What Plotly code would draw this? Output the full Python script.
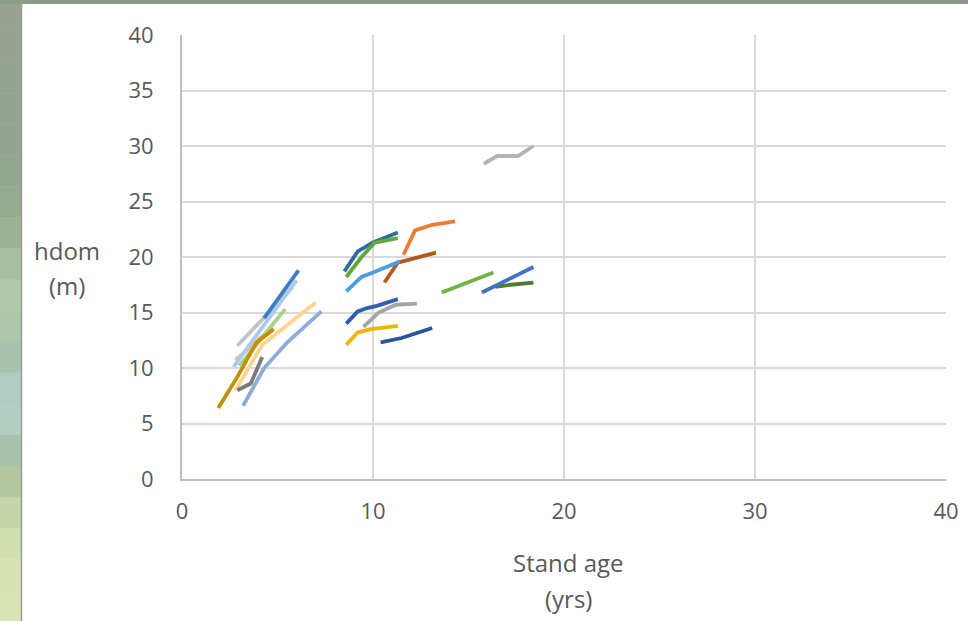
import plotly.graph_objects as go

# Dominant height (m) against stand age (yrs) for repeated plot measurements
series_ages = [
    [15.8, 16.5, 17.6, 18.4],
    [11.6, 12.2, 13.1, 14.3],
    [10.6, 11.3, 12.2, 13.3],
    [8.5, 9.2, 10.0, 11.3],
    [8.6, 9.4, 10.1, 11.3],
    [8.6, 9.4, 10.0, 11.4],
    [8.6, 9.2, 9.7, 10.2, 11.3],
    [9.5, 10.3, 11.2, 12.3],
    [8.6, 9.2, 9.9, 11.3],
    [10.4, 11.5, 13.1],
    [13.6, 14.7, 16.3],
    [16.4, 17.2, 18.4],
    [15.7, 16.8, 18.4],
    [2.9, 5.8],
    [2.8, 4.3],
    [2.7, 6.0],
    [4.3, 6.1],
    [3.0, 5.4],
    [2.8, 4.2, 7.0],
    [2.9, 3.6, 4.2],
    [3.2, 4.3, 5.5, 7.3],
    [1.9, 2.9, 3.9, 4.8],
]
series_heights = [
    [28.4, 29.1, 29.1, 30.0],
    [20.2, 22.4, 22.9, 23.2],
    [17.7, 19.5, 19.9, 20.4],
    [18.7, 20.5, 21.3, 22.2],
    [18.2, 20.0, 21.3, 21.7],
    [16.9, 18.2, 18.6, 19.6],
    [14.0, 15.1, 15.4, 15.6, 16.2],
    [13.7, 15.0, 15.7, 15.8],
    [12.1, 13.2, 13.5, 13.8],
    [12.3, 12.7, 13.6],
    [16.8, 17.5, 18.6],
    [17.3, 17.5, 17.7],
    [16.8, 17.7, 19.1],
    [12.0, 17.3],
    [10.7, 13.0],
    [10.1, 17.9],
    [14.5, 18.8],
    [10.2, 15.3],
    [8.0, 12.1, 15.9],
    [8.0, 8.6, 11.0],
    [6.6, 10.0, 12.3, 15.1],
    [6.4, 9.2, 12.3, 13.5],
]
series_colors = [
    "#b4b4b4", "#ed7d31", "#b05a1c", "#2e6da4", "#5fa83a", "#4d9ee0",
    "#2f5fb3", "#a5a5a5", "#f0b400", "#2a52a0", "#70b443", "#4e7d2f",
    "#4472c4", "#c3c3c3", "#f4b58a", "#a9cbef", "#3f7fc0", "#a9d18e",
    "#ffd48c", "#7a7a7a", "#8faadc", "#c09000",
]

x_ticks = [0, 10, 20, 30, 40]
y_ticks = [0, 5, 10, 15, 20, 25, 30, 35, 40]

# Soft photographic backdrop strip on the left edge, top to bottom
backdrop_bands = [
    "#97a294", "#97a294", "#96a393", "#96a393", "#95a492", "#94a691",
    "#96aa91", "#9db393", "#a8c09f", "#b1c9a9", "#aec6a9", "#a9c2ae",
    "#b1cdc3", "#b2cfc4", "#a9c2ae", "#b3c69f", "#c5d5a9", "#d1deb0",
    "#d8e3b3", "#d9e4b4",
]

W, H = 968, 621
L, R, T, B = 182, 22, 35, 142
PW, PH = W - L - R, H - T - B


def px_x(p):
    """Pixel column -> paper x."""
    return (p - L) / PW


def px_y(p):
    """Pixel row -> paper y."""
    return (H - B - p) / PH


fig = go.Figure()

for ages, heights, color in zip(series_ages, series_heights, series_colors):
    fig.add_trace(go.Scatter(
        x=ages, y=heights, mode="lines",
        line=dict(color=color, width=3.8),
        showlegend=False, hoverinfo="x+y",
    ))

shapes = []
n = len(backdrop_bands)
for i, c in enumerate(backdrop_bands):
    shapes.append(dict(
        type="rect", xref="paper", yref="paper", layer="below",
        x0=px_x(0), x1=px_x(22),
        y0=px_y(H * (i + 1) / n + 0.5), y1=px_y(H * i / n),
        fillcolor=c, line=dict(width=0),
    ))
shapes.append(dict(
    type="rect", xref="paper", yref="paper", layer="below",
    x0=px_x(0), x1=px_x(W), y0=px_y(4), y1=px_y(0),
    fillcolor="#8b9d89", line=dict(width=0),
))
shapes.append(dict(
    type="line", xref="paper", yref="paper", layer="below",
    x0=px_x(21.5), x1=px_x(21.5), y0=px_y(H), y1=px_y(4),
    line=dict(color="#9a9a9a", width=1.5),
))

tick_font = dict(family="Open Sans, Noto Sans, sans-serif", size=22, color="#595959")
title_font = dict(family="Open Sans, Noto Sans, sans-serif", size=24, color="#595959")

fig.update_layout(
    width=W, height=H,
    margin=dict(l=L, r=R, t=T, b=B, autoexpand=False),
    paper_bgcolor="white", plot_bgcolor="white",
    shapes=shapes,
    xaxis=dict(
        range=[0, 40], tickvals=x_ticks, ticktext=[str(v) for v in x_ticks],
        showgrid=True, gridcolor="#d9d9d9", gridwidth=2,
        showline=True, linecolor="#bfbfbf", linewidth=2,
        zeroline=False, ticks="", tickfont=tick_font, ticklabelstandoff=12,
        fixedrange=True, automargin=False,
    ),
    yaxis=dict(
        range=[0, 40], tickvals=y_ticks, ticktext=[str(v) for v in y_ticks],
        showgrid=True, gridcolor="#d9d9d9", gridwidth=2,
        showline=True, linecolor="#bfbfbf", linewidth=2,
        zeroline=False, ticks="", tickfont=tick_font, ticklabelstandoff=22,
        fixedrange=True, automargin=False,
    ),
    annotations=[
        dict(text="hdom", xref="paper", yref="paper", x=px_x(67), y=px_y(250),
             showarrow=False, font=title_font, xanchor="center", yanchor="middle"),
        dict(text="(m)", xref="paper", yref="paper", x=px_x(67), y=px_y(285),
             showarrow=False, font=title_font, xanchor="center", yanchor="middle"),
        dict(text="Stand age", xref="paper", yref="paper", x=px_x(568), y=px_y(562),
             showarrow=False, font=title_font, xanchor="center", yanchor="middle"),
        dict(text="(yrs)", xref="paper", yref="paper", x=px_x(568), y=px_y(598),
             showarrow=False, font=title_font, xanchor="center", yanchor="middle"),
    ],
)

fig.write_html("out.html")
